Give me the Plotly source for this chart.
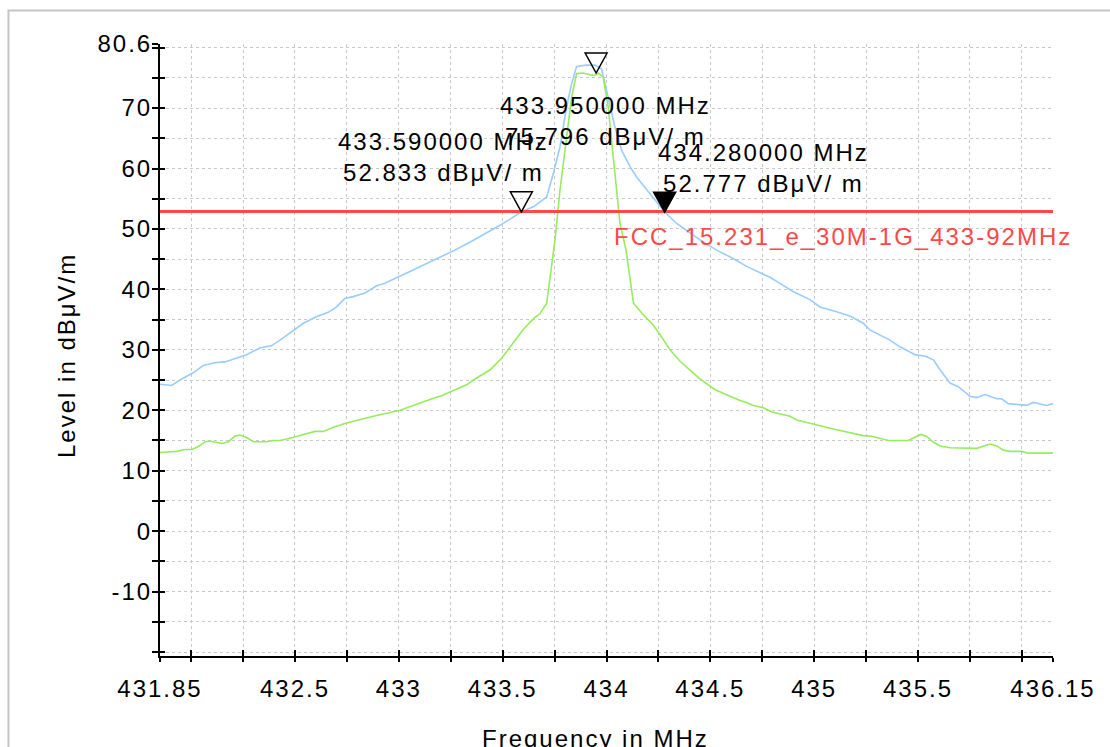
import plotly.graph_objects as go

# Peak trace (blue)
peak_freq = [431.85, 431.906, 431.946, 432.01, 432.058, 432.12, 432.163, 432.21, 432.267, 432.33,
             432.388, 432.428, 432.476, 432.54, 432.605, 432.66, 432.70, 432.74, 432.78, 432.837,
             432.893, 432.933, 433.038, 433.134, 433.198, 433.27, 433.357, 433.487, 433.59, 433.65,
             433.712, 433.744, 433.776, 433.808, 433.832, 433.856, 433.904, 433.944, 433.976, 433.992,
             434.017, 434.04, 434.073, 434.113, 434.145, 434.21, 434.28, 434.338, 434.45, 434.53,
             434.61, 434.675, 434.74, 434.787, 434.835, 434.9, 434.98, 435.028, 435.108, 435.172,
             435.236, 435.268, 435.365, 435.413, 435.486, 435.54, 435.575, 435.606, 435.654, 435.694,
             435.75, 435.783, 435.823, 435.879, 435.903, 435.935, 436.023, 436.055, 436.12, 436.15]
peak_level = [24.3, 24.1, 25.0, 26.2, 27.4, 27.9, 28.0, 28.6, 29.2, 30.3,
              30.7, 31.6, 32.8, 34.4, 35.5, 36.2, 37.1, 38.5, 38.8, 39.4,
              40.6, 41.0, 42.7, 44.3, 45.3, 46.5, 48.1, 50.6, 52.8, 53.7,
              55.3, 59.2, 63.6, 70.2, 74.0, 76.9, 77.1, 77.1, 76.5, 74.0,
              70.2, 66.9, 63.0, 60.3, 58.6, 55.9, 52.8, 50.9, 48.2, 46.5,
              45.1, 43.8, 42.7, 42.0, 41.0, 39.6, 38.3, 37.1, 36.3, 35.6,
              34.4, 33.3, 31.6, 30.5, 29.2, 28.9, 28.3, 26.7, 24.5, 23.9,
              22.3, 22.1, 22.6, 21.9, 21.9, 21.1, 20.8, 21.3, 20.8, 21.1]

# Average trace (green)
avg_freq = [431.85, 431.93, 431.97, 432.003, 432.035, 432.068, 432.09, 432.147, 432.18, 432.21,
            432.235, 432.267, 432.3, 432.363, 432.396, 432.428, 432.49, 432.596, 432.636, 432.685,
            432.74, 432.877, 433.006, 433.054, 433.11, 433.166, 433.206, 433.254, 433.303, 433.327,
            433.359, 433.44, 433.495, 433.543, 433.6, 433.65, 433.68, 433.712, 433.744, 433.752,
            433.776, 433.808, 433.832, 433.856, 433.888, 433.92, 433.944, 433.96, 433.984, 434.008,
            434.04, 434.065, 434.094, 434.13, 434.177, 434.225, 434.258, 434.306, 434.354, 434.402,
            434.45, 434.523, 434.643, 434.675, 434.707, 434.755, 434.796, 434.884, 434.916, 435.092,
            435.236, 435.277, 435.357, 435.453, 435.486, 435.513, 435.54, 435.575, 435.606, 435.654,
            435.783, 435.815, 435.847, 435.879, 435.911, 435.943, 435.999, 436.031, 436.15]
avg_level = [13.0, 13.2, 13.5, 13.5, 14.0, 14.8, 14.9, 14.5, 14.8, 15.7,
             15.9, 15.5, 14.8, 14.8, 15.0, 15.0, 15.5, 16.5, 16.5, 17.2,
             17.8, 19.0, 20.0, 20.6, 21.4, 22.0, 22.4, 23.2, 23.9, 24.2,
             25.0, 26.7, 28.6, 30.8, 33.4, 35.2, 36.0, 37.7, 46.5, 48.2,
             56.4, 64.7, 71.8, 75.7, 75.8, 75.5, 75.4, 75.8, 75.1, 70.2,
             59.2, 50.9, 46.5, 37.7, 35.8, 34.1, 32.5, 30.0, 28.1, 26.7,
             25.2, 23.4, 21.6, 21.3, 20.8, 20.4, 19.7, 19.0, 18.4, 16.9,
             15.8, 15.7, 15.0, 15.0, 15.6, 16.0, 15.7, 14.7, 14.1, 13.8,
             13.7, 14.1, 14.4, 14.1, 13.4, 13.2, 13.2, 12.9, 12.9]

# Limit line
limit_name = "FCC_15.231_e_30M-1G_433-92MHz"
limit_freq = [431.85, 436.15]
limit_level = [52.87, 52.87]

# Markers
marker_freq = [433.59, 433.95, 434.28]
marker_level = [52.833, 75.796, 52.777]
marker_filled = [False, False, True]
marker_label_shift = [(-78, 55), (9, -48), (99, 44)]

# Axes
x_range = [431.85, 436.15]
y_range = [-20.66, 80.6]
x_tick_vals = [431.85, 432.0, 432.25, 432.5, 432.75, 433.0, 433.25, 433.5, 433.75, 434.0,
               434.25, 434.5, 434.75, 435.0, 435.25, 435.5, 435.75, 436.0, 436.15]
x_tick_text = ["431.85", "", "", "432.5", "", "433", "", "433.5", "", "434",
               "", "434.5", "", "435", "", "435.5", "", "", "436.15"]
y_tick_vals = [-20, -15, -10, -5, 0, 5, 10, 15, 20, 25, 30, 35, 40, 45, 50, 55, 60, 65, 70, 75, 80, 80.6]
y_tick_text = ["", "", "-10", "", "0", "", "10", "", "20", "", "30", "", "40", "", "50", "", "60",
               "", "70", "", "", "80.6"]

FONT = "Liberation Sans, Arial, sans-serif"
FS = 24

fig = go.Figure()
fig.add_trace(go.Scatter(x=peak_freq, y=peak_level, mode="lines",
                         line=dict(color="#9ACCFF", width=1.6), hoverinfo="skip"))
fig.add_trace(go.Scatter(x=avg_freq, y=avg_level, mode="lines",
                         line=dict(color="#96EC5C", width=1.6), hoverinfo="skip"))
fig.add_trace(go.Scatter(x=limit_freq, y=limit_level, mode="lines",
                         line=dict(color="#FF4848", width=3), hoverinfo="skip"))
# carrier for the inside tick overlay axes
fig.add_trace(go.Scatter(x=[], y=[], xaxis="x2", yaxis="y2", hoverinfo="skip"))

for f, v, filled, (dx, dy) in zip(marker_freq, marker_level, marker_filled, marker_label_shift):
    fig.add_shape(type="path", xref="x", yref="y", xsizemode="pixel", ysizemode="pixel",
                  xanchor=f, yanchor=v, path="M-11,20 L11,20 L0,0 Z",
                  line=dict(color="black", width=1.5),
                  fillcolor="black" if filled else "rgba(0,0,0,0)", layer="above")
    fig.add_annotation(x=f, y=v, xref="x", yref="y", xshift=dx, yshift=dy,
                       text=f"{f:.6f} MHz<br>{v:.3f} dBμV/ m", showarrow=False,
                       xanchor="center", yanchor="middle", align="center",
                       font=dict(family=FONT, size=FS, color="black"))

fig.add_annotation(x=0.7648, y=limit_level[0], xref="paper", yref="y", yshift=-25,
                   text=limit_name, showarrow=False, xanchor="center", yanchor="middle",
                   font=dict(family=FONT, size=FS, color="#FF4848"))

# axis titles
fig.add_annotation(x=-0.1053, y=0.4918, xref="paper", yref="paper", text="Level in dBμV/m",
                   textangle=-90, showarrow=False, xanchor="center", yanchor="middle",
                   font=dict(family=FONT, size=FS, color="black"))
fig.add_annotation(x=0.488, y=-0.134, xref="paper", yref="paper", text="Frequency in MHz",
                   showarrow=False, xanchor="center", yanchor="middle",
                   font=dict(family=FONT, size=FS, color="black"))

# outer frame
fig.add_shape(type="rect", xref="paper", yref="paper", x0=-0.1697, x1=1.3, y0=-0.4, y1=1.0547,
              line=dict(color="#C4C4C4", width=2), fillcolor="rgba(0,0,0,0)", layer="below")

grid = dict(showgrid=True, gridcolor="#C8C8C8", griddash="dot", gridwidth=1, zeroline=False)
fig.update_layout(
    width=1110, height=747,
    margin=dict(l=160, r=57, t=44, b=91, autoexpand=False),
    paper_bgcolor="white", plot_bgcolor="white",
    showlegend=False,
    xaxis=dict(range=x_range, tickmode="array", tickvals=x_tick_vals, ticktext=x_tick_text,
               showline=True, linecolor="black", linewidth=2, ticks="outside", ticklen=4,
               tickwidth=1.5, tickcolor="black", ticklabelstandoff=6,
               tickfont=dict(family=FONT, size=FS, color="black"), **grid),
    yaxis=dict(range=y_range, tickmode="array", tickvals=y_tick_vals, ticktext=y_tick_text,
               showline=True, linecolor="black", linewidth=2, ticks="outside", ticklen=6,
               tickwidth=1.5, tickcolor="black", ticklabelstandoff=-5,
               tickfont=dict(family=FONT, size=FS, color="black"), **grid),
    xaxis2=dict(range=x_range, overlaying="x", anchor="y2", side="bottom", tickmode="array",
                tickvals=x_tick_vals, ticks="inside", ticklen=6, tickwidth=1.5, tickcolor="black",
                showticklabels=False, showgrid=False, showline=False, zeroline=False),
    yaxis2=dict(range=y_range, overlaying="y", anchor="x2", side="left", tickmode="array",
                tickvals=y_tick_vals, ticks="inside", ticklen=5, tickwidth=1.5, tickcolor="black",
                showticklabels=False, showgrid=False, showline=False, zeroline=False),
)

fig.write_html("out.html", post_script=(
    "document.querySelectorAll('.main-svg text').forEach(function(t){t.style.letterSpacing='2px';});"
))
